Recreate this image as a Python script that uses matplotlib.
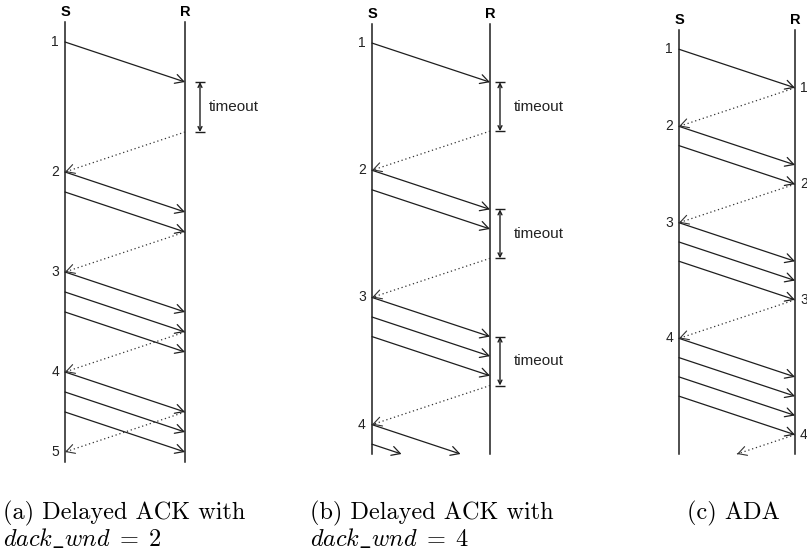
import matplotlib
matplotlib.use("Agg")
import matplotlib.pyplot as plt
from matplotlib.transforms import offset_copy

plt.rcParams['font.family'] = ['Liberation Sans', 'DejaVu Sans']
plt.rcParams['mathtext.fontset'] = 'cm'

# time runs downwards, one unit = one packet slot, trip S->R takes 2 units
T_END = 22
TRAVEL = 2

# (a) delayed ACK, dack_wnd = 2
a_sends = [1, 7.5, 8.5, 12.5, 13.5, 14.5, 17.5, 18.5, 19.5]
a_acks = [5.5, 10.5, 15.5, 19.5]
a_timeouts = [(3, 5.5)]
a_s_marks = [1, 7.5, 12.5, 17.5, 21.5]
a_r_marks = []

# (b) delayed ACK, dack_wnd = 4
b_sends = [1, 7.5, 8.5, 14, 15, 16, 20.5, 21.5]
b_acks = [5.5, 12, 18.5]
b_timeouts = [(3, 5.5), (9.5, 12), (16, 18.5)]
b_s_marks = [1, 7.5, 14, 20.5]
b_r_marks = []

# (c) ADA
c_sends = [1, 5, 6, 10, 11, 12, 16, 17, 18, 19]
c_acks = [3, 8, 14, 21]
c_timeouts = []
c_s_marks = [1, 5, 10, 16]
c_r_marks = [3, 8, 14, 21]

W, H = 807, 552
INK = '#1e1e1e'

fig = plt.figure(figsize=(W / 100, H / 100), dpi=100)


def draw_panel(box, sends, acks, timeouts, s_marks, r_marks, bracket_dx):
    left, right, top, bottom = box
    ax = fig.add_axes([left / W, 1 - bottom / H, (right - left) / W, (bottom - top) / H])
    ax.set_xlim(0, 1)
    ax.set_ylim(T_END, 0)
    ax.axis('off')

    ax.plot([0, 0], [0, T_END], color=INK, lw=1.1, clip_on=False)
    ax.plot([1, 1], [0, T_END], color=INK, lw=1.1, clip_on=False)
    ax.annotate('S', xy=(0, 0), xytext=(0, 10), textcoords='offset pixels',
                ha='center', va='center', fontsize=10.5, fontweight='bold')
    ax.annotate('R', xy=(1, 0), xytext=(0, 10), textcoords='offset pixels',
                ha='center', va='center', fontsize=10.5, fontweight='bold')

    head = dict(arrowstyle='->,head_length=0.55,head_width=0.3', color=INK,
                lw=0.9, shrinkA=0, shrinkB=0, mutation_scale=11)

    # data packets S -> R
    for s in sends:
        t_end = min(s + TRAVEL, T_END)
        x_end = (t_end - s) / TRAVEL
        ax.annotate('', xy=(x_end, t_end), xytext=(0, s), arrowprops=head,
                    annotation_clip=False)

    # acks R -> S, dotted
    for a in acks:
        t_end = min(a + TRAVEL, T_END)
        x_end = 1 - (t_end - a) / TRAVEL
        ax.plot([1, x_end], [a, t_end], color='#333333', lw=0.9,
                dashes=(1, 2.2), clip_on=False)
        k = 0.02
        ax.annotate('', xy=(x_end, t_end),
                    xytext=(x_end + k, t_end - k * TRAVEL),
                    arrowprops=dict(head, color='#333333', lw=0.8),
                    annotation_clip=False)

    # timeout brackets next to R
    off = offset_copy(ax.transData, fig=fig, x=bracket_dx, y=0, units='dots')
    for t0, t1 in timeouts:
        ax.plot([1, 1], [t0, t1], transform=off, ls='none', marker='_',
                ms=7.5, mew=1.0, color=INK, clip_on=False)
        ax.annotate('', xy=(1, t1), xycoords=off, xytext=(1, t0), textcoords=off,
                    arrowprops=dict(arrowstyle='<->', color=INK, lw=1.0,
                                    shrinkA=0, shrinkB=0, mutation_scale=7),
                    annotation_clip=False)
        ax.annotate('timeout', xy=(1, (t0 + t1) / 2), xytext=(24, 0),
                    textcoords='offset pixels', ha='left', va='center',
                    fontsize=11, color='#222222')

    for i, t in enumerate(s_marks):
        ax.annotate(str(i + 1), xy=(0, t), xytext=(-10, 0), textcoords='offset pixels',
                    ha='center', va='center', fontsize=10, color='#222222')
    for i, t in enumerate(r_marks):
        ax.annotate(str(i + 1), xy=(1, t), xytext=(9, 0), textcoords='offset pixels',
                    ha='center', va='center', fontsize=10, color='#222222')
    return ax


draw_panel((65, 185, 22, 462), a_sends, a_acks, a_timeouts, a_s_marks, a_r_marks, 15)
draw_panel((372, 490, 23.5, 454), b_sends, b_acks, b_timeouts, b_s_marks, b_r_marks, 10)
draw_panel((679, 795, 30, 454), c_sends, c_acks, c_timeouts, c_s_marks, c_r_marks, 10)

captions = [
    (3, '(a) Delayed ACK with', r'$dack\_wnd\;=\;2$'),
    (310, '(b) Delayed ACK with', r'$dack\_wnd\;=\;4$'),
    (687, '(c) ADA', ''),
]
for x, line1, line2 in captions:
    fig.text(x / W, 1 - 519 / H, line1, family='cmr10', fontsize=17.5,
             ha='left', va='baseline')
    if line2:
        fig.text(x / W, 1 - 546 / H, line2, fontsize=17.5, ha='left', va='baseline')

fig.savefig('out.png', dpi=100)
